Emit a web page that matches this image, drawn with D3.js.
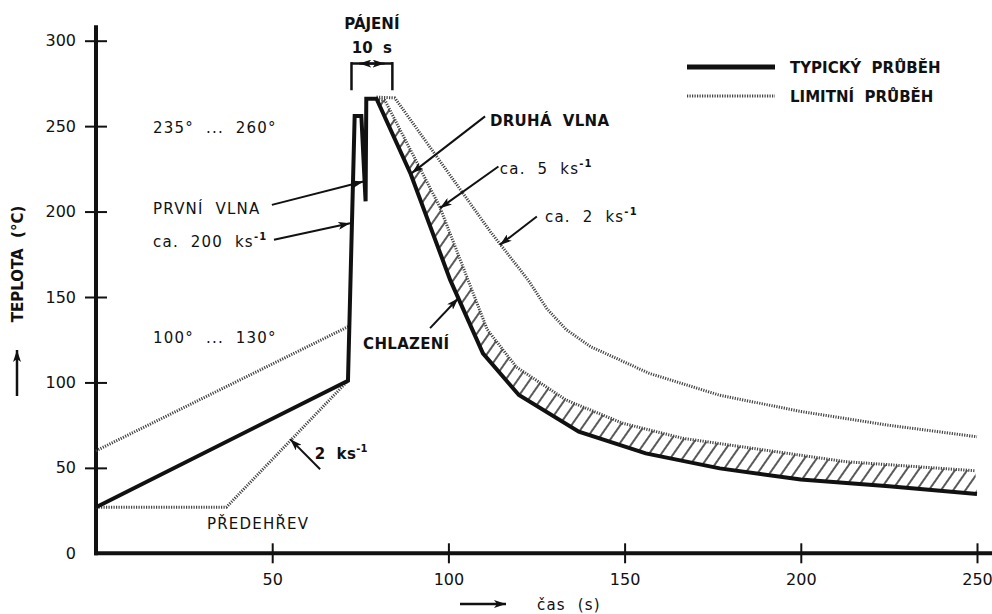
<!DOCTYPE html>
<html><head><meta charset="utf-8">
<script src="https://cdn.jsdelivr.net/npm/d3@7"></script>
<style>
body{margin:0;background:#fff}
svg text{font-family:"DejaVu Sans",sans-serif;fill:#111;white-space:pre}
</style></head><body><svg id="c" width="992" height="614"></svg>
<script>
// ---- data (time s, temperature °C) ----
const typicalProfile = [[0,27],[71.5,101],[73.4,256],[75.3,256],[76.5,206],[76.7,266],[79.6,266],[89.3,222],[100.5,160],[109.8,117],[120,92.6],[137,71.2],[156,58.5],[177,49.7],[200,43.2],[225,39.2],[250,34.7]];
const limitCoolInner = [[79.6,266],[82,265],[97.5,203],[111,131],[119.3,109],[133.4,89.7],[149.5,76.1],[166.5,67.3],[177,64.2],[212.8,53.6],[249.5,48.3]];
const limitCoolOuter = [[79.6,267],[84.8,266.5],[112,188],[122.6,160],[128,143],[133.4,131],[140.3,121],[157,105.3],[177,92.5],[200,83],[224.4,75.1],[250,68.2]];
const limitPreheatUpper = [[0,60],[71.9,133]];
const limitPreheatLower = [[0,27],[37,27],[71.5,101]];
const xTicks = [50,100,150,200,250];
const yTicks = [0,50,100,150,200,250,300];
const pajeni = [72.5,84.1];
const labels = [
  {t:16.2,T:246.1,txt:"235°  ...  260°"},
  {t:16.2,T:198.7,txt:"PRVNÍ  VLNA"},
  {t:16.2,T:179.4,txt:"ca.  200  ks",sup:"-1"},
  {t:16.2,T:123.1,txt:"100°  ...  130°"},
  {t:62.1,T:55.2,txt:"2  ks",sup:"-1",bold:true},
  {t:31.5,T:14.2,txt:"PŘEDEHŘEV"},
  {t:111.8,T:250.2,txt:"DRUHÁ  VLNA",bold:true},
  {t:114.6,T:222.1,txt:"ca.  5  ks",sup:"-1"},
  {t:127.4,T:194,txt:"ca.  2  ks",sup:"-1"},
  {t:75.8,T:119.6,txt:"CHLAZENÍ",bold:true}
];
const arrows = [
  [[49.9,203.9],[75.9,217.6]],
  [[50.5,183.5],[72.1,193.2]],
  [[63.6,49.2],[55.1,66.8]],
  [[110.4,255.7],[89.6,222.5]],
  [[114.2,226.4],[97.6,202.0]],
  [[125.1,197.1],[114.6,180.5]],
  [[94.8,131.8],[102.8,149.3]]
];

const svg = d3.select("#c");
const x = d3.scaleLinear().domain([0,250]).range([96,977]);
const y = d3.scaleLinear().domain([0,300]).range([553.3,40.7]);
const line = d3.line().x(d=>x(d[0])).y(d=>y(d[1]));

const defs = svg.append("defs");
defs.append("marker").attr("id","ah").attr("viewBox","0 0 12 8").attr("refX",12).attr("refY",4)
  .attr("markerWidth",12).attr("markerHeight",8).attr("markerUnits","userSpaceOnUse").attr("orient","auto")
  .append("path").attr("d","M0,0 L12,4 L0,8 L3,4 Z").attr("fill","#111");
const pat = defs.append("pattern").attr("id","hatch").attr("patternUnits","userSpaceOnUse")
  .attr("width",10).attr("height",10).attr("patternTransform","rotate(35)");
pat.append("line").attr("x1",2).attr("y1",0).attr("x2",2).attr("y2",10).attr("stroke","#222").attr("stroke-width",1.5);

// hatch band
const band = limitCoolInner.concat(typicalProfile.filter(d=>d[0]>=79.6).slice().reverse());
svg.append("path").attr("d",line(band)+"Z").attr("fill","url(#hatch)").attr("stroke","none");

// axes
const gy = svg.append("g").attr("transform",`translate(${x(0)},0)`).call(d3.axisLeft(y).tickValues(yTicks).tickSize(11));
gy.select(".domain").remove();
gy.selectAll(".tick line").attr("x1",-11).attr("x2",11).attr("stroke","#111").attr("stroke-width",2);
gy.selectAll(".tick text").attr("x",-20).attr("font-size",16).attr("font-family","DejaVu Sans").attr("fill","#111");
gy.selectAll(".tick").filter(d=>d===0).select("line").remove();
const gx = svg.append("g").attr("transform",`translate(0,${y(0)})`).call(d3.axisBottom(x).tickValues(xTicks).tickSize(10));
gx.select(".domain").remove();
gx.selectAll(".tick line").attr("y1",-10).attr("y2",10).attr("stroke","#111").attr("stroke-width",2);
gx.selectAll(".tick text").attr("y",20).attr("font-size",16).attr("font-family","DejaVu Sans").attr("fill","#111");
svg.append("line").attr("x1",x(0)).attr("x2",x(0)).attr("y1",y(0)+2).attr("y2",y(309)).attr("stroke","#111").attr("stroke-width",4);
svg.append("line").attr("x1",x(0)-2).attr("x2",992).attr("y1",y(0)).attr("y2",y(0)).attr("stroke","#111").attr("stroke-width",4);

// limit (dotted) lines
const dotted = s=>s.attr("fill","none").attr("stroke","#444").attr("stroke-width",3).attr("stroke-dasharray","1.2 1.3");
[limitCoolInner,limitCoolOuter,limitPreheatUpper,limitPreheatLower].forEach(d=>dotted(svg.append("path").attr("d",line(d))));

// typical profile
svg.append("path").attr("d",line(typicalProfile)).attr("fill","none").attr("stroke","#111").attr("stroke-width",4).attr("stroke-linejoin","miter");

// annotations
labels.forEach(l=>{
  const t = svg.append("text").attr("x",x(l.t)).attr("y",y(l.T)).attr("font-size",15)
    .attr("letter-spacing",l.bold?0.3:1.2)
    .attr("font-weight",l.bold?"bold":"normal").text(l.txt);
  if(l.sup) t.append("tspan").attr("dy",-7).attr("font-size",10).attr("font-weight","bold").text(l.sup);
});
arrows.forEach(a=>svg.append("path").attr("d",line(a)).attr("stroke","#111").attr("stroke-width",2).attr("fill","none").attr("marker-end","url(#ah)"));

// PÁJENÍ bracket
const pc = (pajeni[0]+pajeni[1])/2;
svg.append("text").attr("x",x(pc)).attr("y",y(306.9)).attr("text-anchor","middle").attr("font-size",15).attr("font-weight","bold").text("PÁJENÍ");
svg.append("text").attr("x",x(pc)).attr("y",y(292.8)).attr("text-anchor","middle").attr("font-size",15).attr("font-weight","bold").text("10  s");
pajeni.forEach(p=>svg.append("line").attr("x1",x(p)).attr("x2",x(p)).attr("y1",y(287.5)).attr("y2",y(271)).attr("stroke","#111").attr("stroke-width",2.5));
svg.append("line").attr("x1",x(pajeni[0])).attr("x2",x(pajeni[1])).attr("y1",y(286.6)).attr("y2",y(286.6)).attr("stroke","#111").attr("stroke-width",2.5);
svg.append("line").attr("x1",x(pc)).attr("x2",x(pc-3.6)).attr("y1",y(286.6)).attr("y2",y(286.6)).attr("stroke","#111").attr("stroke-width",2).attr("marker-end","url(#ah)");
svg.append("line").attr("x1",x(pc)).attr("x2",x(pc+3.6)).attr("y1",y(286.6)).attr("y2",y(286.6)).attr("stroke","#111").attr("stroke-width",2).attr("marker-end","url(#ah)");

// axis titles
svg.append("text").attr("transform","translate(23,264) rotate(-90)").attr("text-anchor","middle").attr("font-size",15).attr("font-weight","bold").text("TEPLOTA  (°C)");
svg.append("line").attr("x1",17).attr("x2",17).attr("y1",396).attr("y2",350).attr("stroke","#111").attr("stroke-width",2.5).attr("marker-end","url(#ah)");
svg.append("text").attr("x",537).attr("y",610).attr("font-size",15).attr("letter-spacing",1.2).text("čas  (s)");
svg.append("line").attr("x1",460).attr("x2",506).attr("y1",604).attr("y2",604).attr("stroke","#111").attr("stroke-width",2.5).attr("marker-end","url(#ah)");

// legend
svg.append("line").attr("x1",687).attr("x2",775).attr("y1",67).attr("y2",67).attr("stroke","#111").attr("stroke-width",5);
svg.append("text").attr("x",790).attr("y",73).attr("font-size",15).attr("font-weight","bold").text("TYPICKÝ  PRŮBĚH");
dotted(svg.append("line").attr("x1",687).attr("x2",775).attr("y1",96).attr("y2",96));
svg.append("text").attr("x",790).attr("y",102).attr("font-size",15).attr("font-weight","bold").text("LIMITNÍ  PRŮBĚH");
</script></body></html>
